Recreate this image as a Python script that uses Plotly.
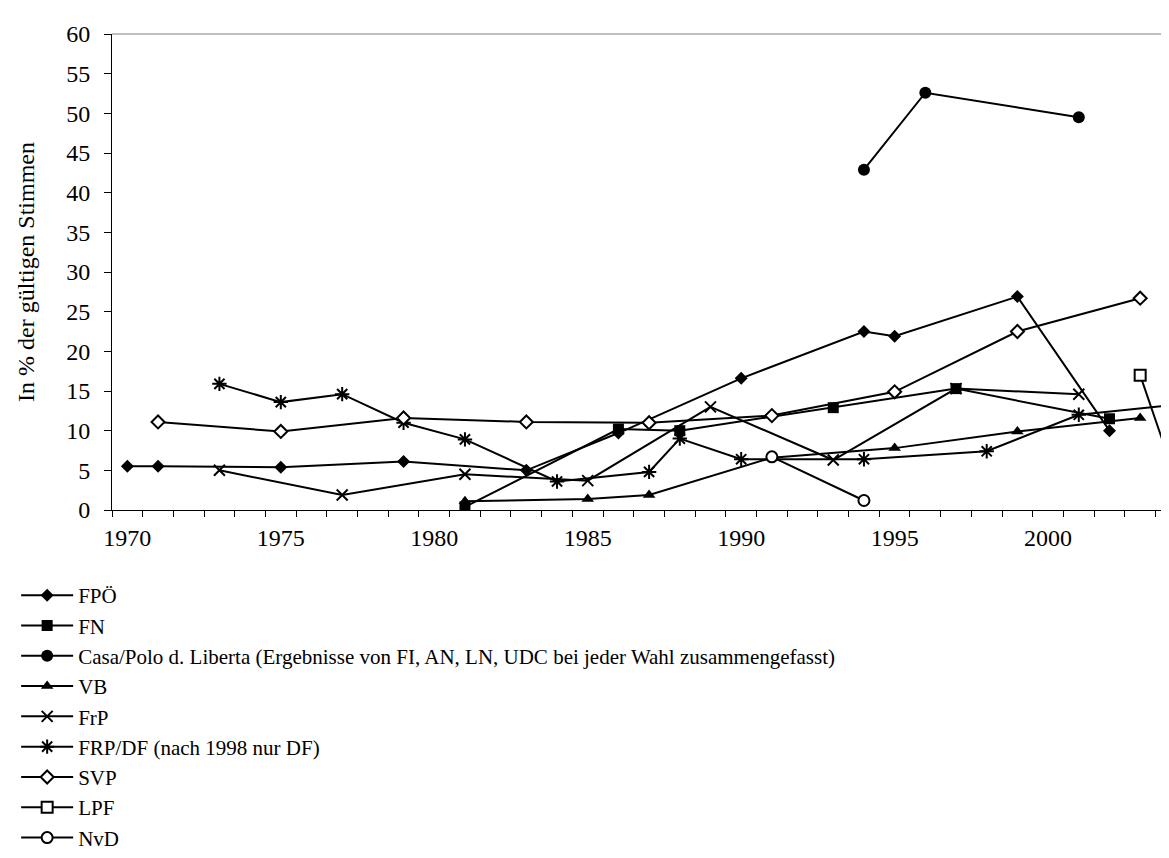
import plotly.graph_objects as go

# ---- data ----
fpo_years = [1970, 1971, 1975, 1979, 1983, 1986, 1990, 1994, 1995, 1999, 2002]
fpo_vals = [5.5, 5.5, 5.4, 6.1, 5.0, 9.7, 16.6, 22.5, 21.9, 26.9, 10.0]

fn_years = [1981, 1986, 1988, 1993, 1997, 2002]
fn_vals = [0.4, 10.2, 10.0, 12.9, 15.3, 11.5]

casa_years = [1994, 1996, 2001]
casa_vals = [42.9, 52.6, 49.5]

vb_years = [1981, 1985, 1987, 1991, 1995, 1999, 2003]
vb_vals = [1.1, 1.4, 1.9, 6.6, 7.8, 9.9, 11.6]

frp_n_years = [1973, 1977, 1981, 1985, 1989, 1993, 1997, 2001]
frp_n_vals = [5.0, 1.9, 4.5, 3.7, 13.0, 6.3, 15.3, 14.6]

frp_dk_years = [1973, 1975, 1977, 1979, 1981, 1984, 1987, 1988, 1990, 1994, 1998, 2001, 2004]
frp_dk_vals = [15.9, 13.6, 14.6, 11.0, 8.9, 3.6, 4.8, 9.0, 6.4, 6.4, 7.4, 12.0, 13.2]

svp_years = [1971, 1975, 1979, 1983, 1987, 1991, 1995, 1999, 2003]
svp_vals = [11.1, 9.9, 11.6, 11.1, 11.0, 11.9, 14.9, 22.5, 26.7]

lpf_years = [2003, 2004]
lpf_vals = [17.0, 5.7]

nvd_years = [1991, 1994]
nvd_vals = [6.7, 1.2]

x_tick_vals = [1970, 1975, 1980, 1985, 1990, 1995, 2000]
x_tick_text = ["1970", "1975", "1980", "1985", "1990", "1995", "2000"]

SERIF = "Liberation Serif, Times New Roman, Times, DejaVu Serif, serif"

# name, x, y, symbol, size, fill
series = [
    ("FPÖ", fpo_years, fpo_vals, "diamond", 10, "black"),
    ("FN", fn_years, fn_vals, "square", 11, "black"),
    ("Casa/Polo d. Liberta (Ergebnisse von FI, AN, LN, UDC bei jeder Wahl zusammengefasst)",
     casa_years, casa_vals, "circle", 12, "black"),
    ("VB", vb_years, vb_vals, "triangle-up", 11, "black"),
    ("FrP", frp_n_years, frp_n_vals, "x-thin-open", 11, "black"),
    ("FRP/DF (nach 1998 nur DF)", frp_dk_years, frp_dk_vals, "asterisk-open", 12, "black"),
    ("SVP", svp_years, svp_vals, "diamond", 10, "white"),
    ("LPF", lpf_years, lpf_vals, "square", 11, "white"),
    ("NvD", nvd_years, nvd_vals, "circle", 11, "white"),
]

fig = go.Figure()
for name, xs, ys, sym, size, fill in series:
    if sym.endswith("-open") or fill == "white":
        mline = dict(color="black", width=2)
    else:
        mline = dict(color="black", width=0)
    fig.add_trace(go.Scatter(
        x=xs, y=ys, name=name, mode="lines+markers",
        line=dict(color="black", width=2),
        marker=dict(symbol=sym, size=size, color=fill, line=mline),
    ))

fig.update_layout(
    width=1169, height=858,
    margin=dict(l=104, r=0, t=26, b=356, autoexpand=False),
    paper_bgcolor="white", plot_bgcolor="white",
    font=dict(family=SERIF, size=24, color="black"),
    showlegend=True,
    legend=dict(x=-0.090, y=-0.1366, xanchor="left", yanchor="top",
                font=dict(size=21, family=SERIF, color="black"),
                bgcolor="rgba(0,0,0,0)", tracegroupgap=0, itemwidth=52),
    xaxis=dict(range=[1969.5, 2004.2], tickmode="array", tickvals=x_tick_vals, ticktext=x_tick_text,
               ticks="outside", ticklen=0, showgrid=False, zeroline=False,
               showline=True, linecolor="black", linewidth=1,
               ticklabelstandoff=6, automargin=False,
               minor=dict(tickmode="linear", tick0=1969.5, dtick=1, ticks="outside",
                          ticklen=6, tickcolor="black", tickwidth=1, showgrid=False),
               tickfont=dict(size=24, family=SERIF)),
    yaxis=dict(range=[0, 60], tickmode="linear", tick0=0, dtick=5,
               ticks="outside", ticklen=7, tickcolor="black", tickwidth=1,
               ticklabelstandoff=9, automargin=False,
               showgrid=False, zeroline=False, showline=True, linecolor="black", linewidth=1,
               title=dict(text="In % der gültigen Stimmen", font=dict(size=24, family=SERIF), standoff=24),
               tickfont=dict(size=24, family=SERIF)),
    shapes=[dict(type="line", xref="paper", yref="paper", x0=0, x1=1, y0=1, y1=1,
                 line=dict(color="#808080", width=1))],
)

fig.write_html("out.html")
